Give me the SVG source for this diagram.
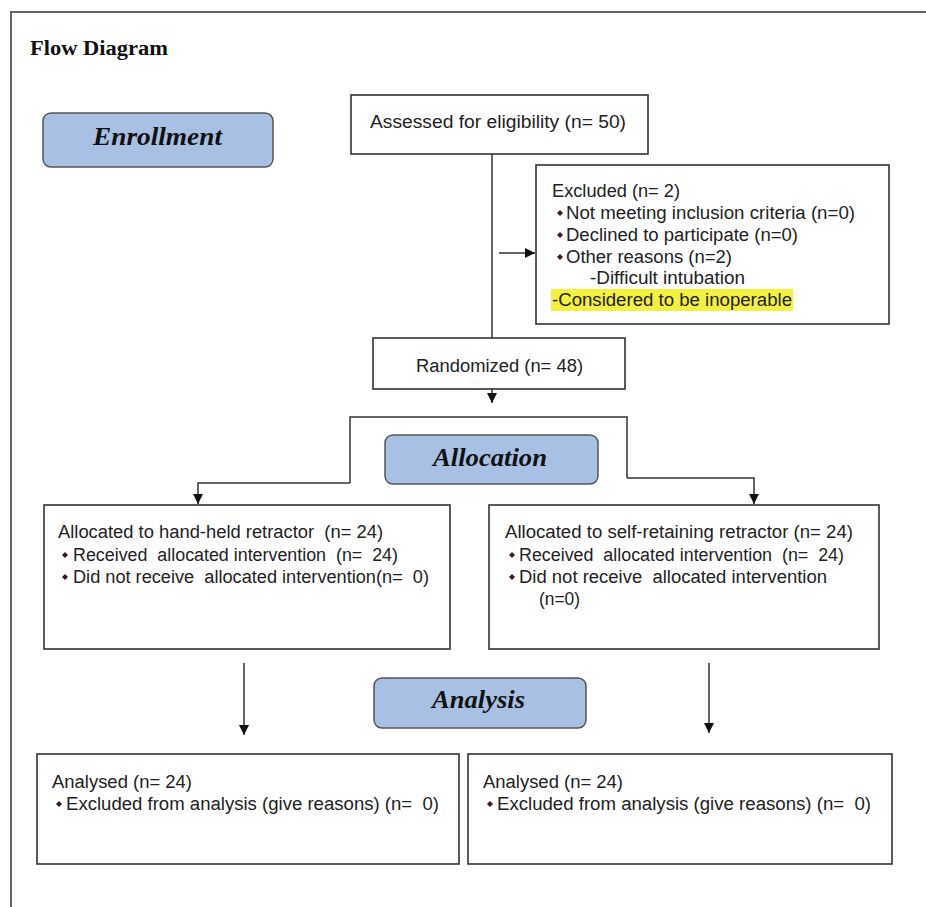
<svg xmlns="http://www.w3.org/2000/svg" xmlns:xlink="http://www.w3.org/1999/xlink" width="926" height="907" viewBox="0 0 926 907">
<style>
.box{fill:#fff;stroke:#333;stroke-width:1.6}
.stage{fill:#a8c0e4;stroke:#555;stroke-width:1.5}
.t{font-family:"Liberation Sans",Arial,sans-serif;font-size:18px;fill:#222}
.st{font-family:"Liberation Serif","Times New Roman",serif;font-size:25px;font-weight:bold;font-style:italic;fill:#111}
.ln{fill:none;stroke:#333;stroke-width:1.5}
.hl{fill:#f4f040}
</style>
<defs>
<marker id="ah" viewBox="0 0 10 10" refX="10" refY="5" markerWidth="10" markerHeight="10" markerUnits="userSpaceOnUse" orient="auto">
<path d="M0,0 L10,5 L0,10 z" fill="#111"/>
</marker>
<path id="b" d="M0,-3 L3,0 L0,3 L-3,0 z" fill="#3a1a1a"/>
</defs>
<rect width="926" height="907" fill="#fff"/>
<path d="M11,907 V12 H926" fill="none" stroke="#666" stroke-width="2"/>
<text x="30" y="55" font-family="Liberation Serif,'Times New Roman',serif" font-size="20" font-weight="bold" fill="#111" textLength="138" lengthAdjust="spacingAndGlyphs">Flow Diagram</text>

<g id="connectors">
<line class="ln" x1="492" y1="154" x2="492" y2="338"/>
<line class="ln" x1="499" y1="253" x2="535" y2="253" marker-end="url(#ah)"/>
<line class="ln" x1="492" y1="389" x2="492" y2="403" marker-end="url(#ah)"/>
<polyline class="ln" points="350,483 350,417 627,417 627,478"/>
<polyline class="ln" points="350,483 198,483 198,504" marker-end="url(#ah)"/>
<polyline class="ln" points="627,478 754,478 754,504" marker-end="url(#ah)"/>
<line class="ln" x1="244" y1="663" x2="244" y2="735" marker-end="url(#ah)"/>
<line class="ln" x1="709" y1="663" x2="709" y2="733" marker-end="url(#ah)"/>
</g>

<g id="enrollment">
<rect class="stage" x="43" y="113" width="230" height="54" rx="8"/>
<text class="st" x="93" y="145" textLength="129" lengthAdjust="spacingAndGlyphs">Enrollment</text>
</g>

<g id="assessed">
<rect class="box" x="351" y="95" width="297" height="59"/>
<text class="t" x="370" y="128" textLength="256" lengthAdjust="spacingAndGlyphs">Assessed for eligibility (n= 50)</text>
</g>

<g id="excluded">
<rect class="box" x="536" y="165" width="353" height="159"/>
<rect class="hl" x="551" y="289" width="242" height="22"/>
<text class="t" x="552" y="197" textLength="128" lengthAdjust="spacingAndGlyphs">Excluded (n= 2)</text>
<use xlink:href="#b" x="560" y="213"/>
<text class="t" x="566" y="219" textLength="289" lengthAdjust="spacingAndGlyphs">Not meeting inclusion criteria (n=0)</text>
<use xlink:href="#b" x="560" y="235"/>
<text class="t" x="566" y="241" textLength="232" lengthAdjust="spacingAndGlyphs">Declined to participate (n=0)</text>
<use xlink:href="#b" x="560" y="257"/>
<text class="t" x="566" y="263" textLength="166" lengthAdjust="spacingAndGlyphs">Other reasons (n=2)</text>
<text class="t" x="590" y="284" textLength="155" lengthAdjust="spacingAndGlyphs">-Difficult intubation</text>
<text class="t" x="552" y="306" textLength="240" lengthAdjust="spacingAndGlyphs">-Considered to be inoperable</text>
</g>

<g id="randomized">
<rect class="box" x="373" y="338" width="252" height="51"/>
<text class="t" x="416" y="372" textLength="167" lengthAdjust="spacingAndGlyphs">Randomized (n= 48)</text>
</g>

<g id="allocation">
<rect class="stage" x="385" y="435" width="213" height="49" rx="8"/>
<text class="st" x="433" y="466" textLength="114" lengthAdjust="spacingAndGlyphs">Allocation</text>
</g>

<g id="alloc-hand">
<rect class="box" x="44" y="505" width="406" height="144"/>
<text class="t" x="58" y="538" xml:space="preserve" textLength="325" lengthAdjust="spacingAndGlyphs">Allocated to hand-held retractor  (n= 24)</text>
<use xlink:href="#b" x="65" y="555"/>
<text class="t" x="73" y="561" xml:space="preserve" textLength="325" lengthAdjust="spacingAndGlyphs">Received  allocated intervention  (n=  24)</text>
<use xlink:href="#b" x="65" y="577"/>
<text class="t" x="73" y="583" xml:space="preserve" textLength="356" lengthAdjust="spacingAndGlyphs">Did not receive  allocated intervention(n=  0)</text>
</g>

<g id="alloc-self">
<rect class="box" x="489" y="505" width="390" height="144"/>
<text class="t" x="505" y="538" textLength="348" lengthAdjust="spacingAndGlyphs">Allocated to self-retaining retractor (n= 24)</text>
<use xlink:href="#b" x="512" y="555"/>
<text class="t" x="519" y="561" xml:space="preserve" textLength="325" lengthAdjust="spacingAndGlyphs">Received  allocated intervention  (n=  24)</text>
<use xlink:href="#b" x="512" y="577"/>
<text class="t" x="519" y="583" xml:space="preserve" textLength="308" lengthAdjust="spacingAndGlyphs">Did not receive  allocated intervention</text>
<text class="t" x="539" y="605" textLength="41" lengthAdjust="spacingAndGlyphs">(n=0)</text>
</g>

<g id="analysis">
<rect class="stage" x="374" y="678" width="212" height="50" rx="8"/>
<text class="st" x="432" y="708" textLength="93" lengthAdjust="spacingAndGlyphs">Analysis</text>
</g>

<g id="analysed-hand">
<rect class="box" x="37" y="754" width="422" height="110"/>
<text class="t" x="52" y="788" textLength="140" lengthAdjust="spacingAndGlyphs">Analysed (n= 24)</text>
<use xlink:href="#b" x="59" y="804"/>
<text class="t" x="66" y="810" xml:space="preserve" textLength="373" lengthAdjust="spacingAndGlyphs">Excluded from analysis (give reasons) (n=  0)</text>
</g>

<g id="analysed-self">
<rect class="box" x="468" y="754" width="424" height="110"/>
<text class="t" x="483" y="788" textLength="140" lengthAdjust="spacingAndGlyphs">Analysed (n= 24)</text>
<use xlink:href="#b" x="490" y="804"/>
<text class="t" x="497" y="810" xml:space="preserve" textLength="374" lengthAdjust="spacingAndGlyphs">Excluded from analysis (give reasons) (n=  0)</text>
</g>
</svg>
